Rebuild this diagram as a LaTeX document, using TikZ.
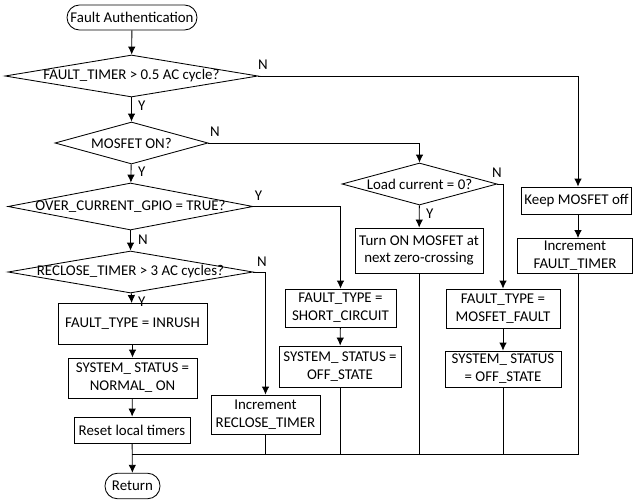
\documentclass[tikz,border=0pt]{standalone}
\usepackage{fontspec}
\setmainfont{Carlito}
\usetikzlibrary{shapes.geometric,arrows.meta}
\begin{document}
\begin{tikzpicture}[x=1pt,y=-1pt,
  every node/.style={font=\fontsize{14.9}{17.7}\selectfont, text=black},
  line/.style={draw=black, line width=0.85pt},
  arr/.style={line, -{Latex[length=8pt,width=7.5pt]}},
  proc/.style={draw=black, line width=0.85pt, rectangle, align=center, inner sep=0pt},
  term/.style={draw=black, line width=0.85pt, rectangle, rounded corners=12.5pt, inner sep=0pt},
  decision/.style={draw=black, line width=0.85pt, diamond, inner sep=0pt},
  lab/.style={inner sep=1pt}
]
\useasboundingbox (0,0) rectangle (634,501);

% terminals
\node[term, minimum width=130pt, minimum height=25pt] (start) at (132,17.5) {Fault Authentication};
\node[term, minimum width=55pt, minimum height=25.5pt] (ret) at (132.5,486) {Return};

% decisions
\node[decision, minimum width=253pt, minimum height=42pt] (d1) at (131.5,76) {\makebox[0pt]{FAULT\_TIMER > 0.5 AC cycle?}};
\node[decision, minimum width=153pt, minimum height=42pt] (d2) at (131.5,143) {\makebox[0pt]{MOSFET ON?}};
\node[decision, minimum width=245pt, minimum height=47pt] (d3) at (130.5,206.5) {\makebox[0pt]{OVER\_CURRENT\_GPIO = TRUE?}};
\node[decision, minimum width=245pt, minimum height=42pt] (d4) at (130.5,272) {\makebox[0pt]{RECLOSE\_TIMER > 3 AC cycles?}};
\node[decision, minimum width=155pt, minimum height=42pt] (d5) at (419.5,184) {\makebox[0pt]{Load current = 0?}};

% left column
\node[proc, minimum width=149pt, minimum height=41pt] (inrush) at (132.5,324) {FAULT\_TYPE = INRUSH};
\node[proc, minimum width=129pt, minimum height=40pt] (normal) at (132.5,378) {SYSTEM\_ STATUS =\\NORMAL\_ ON};
\node[proc, minimum width=116pt, minimum height=26pt] (reset) at (132,430) {Reset local timers};

% middle columns
\node[proc, minimum width=109pt, minimum height=39pt] (rclose) at (265.5,414.5) {Increment\\RECLOSE\_TIMER};
\node[proc, minimum width=111pt, minimum height=38pt] (short) at (340.5,308) {FAULT\_TYPE =\\SHORT\_CIRCUIT};
\node[proc, minimum width=122pt, minimum height=41pt] (offL) at (340,366.5) {SYSTEM\_ STATUS =\\OFF\_STATE};
\node[proc, minimum width=128pt, minimum height=45pt] (turnon) at (419,250.5) {Turn ON MOSFET at\\next zero-crossing};
\node[proc, minimum width=114pt, minimum height=39pt] (mfault) at (503,308.5) {FAULT\_TYPE =\\MOSFET\_FAULT};
\node[proc, minimum width=116pt, minimum height=36pt] (offR) at (503,369) {SYSTEM\_ STATUS\\= OFF\_STATE};

% right column
\node[proc, minimum width=110pt, minimum height=27pt] (keep) at (576.5,200.5) {Keep MOSFET off};
\node[proc, minimum width=115pt, minimum height=35pt] (incF) at (575,256) {Increment\\FAULT\_TIMER};

% merge line above Return
\coordinate (mL) at (132,454.5);
\coordinate (mR) at (578,454.5);

% main spine
\draw[arr] (start) -- (d1);
\draw[arr] (d1) -- (d2);
\draw[arr] (d2) -- (d3);
\draw[arr] (d3) -- (d4);
\draw[arr] (d4) -- (inrush);
\draw[arr] (inrush) -- (normal);
\draw[arr] (normal) -- (reset);
\draw[arr] (reset) -- (ret);

% branches
\draw[arr] (d1.east) -| (keep.north -| mR);
\draw[arr] (keep.south -| mR) -- (incF.north -| mR);
\draw[line] (incF.south -| mR) -- (mR);

\draw[arr] (d2.east) -| (d5.north);
\draw[arr] (d5) -- (turnon);
\draw[line] (turnon.south) -- (turnon.south |- mL);

\draw[arr] (d5.east) -| (mfault.north);
\draw[arr] (mfault) -- (offR);
\draw[line] (offR.south) -- (offR.south |- mL);

\draw[arr] (d3.east) -| (short.north);
\draw[arr] (short) -- (offL);
\draw[line] (offL.south) -- (offL.south |- mL);

\draw[arr] (d4.east) -| (rclose.north);
\draw[line] (rclose.south) -- (rclose.south |- mL);

\draw[line] (mL) -- (mR);

% branch labels
\node[lab, anchor=west] at (137,106) {Y};
\node[lab, anchor=west] at (137,172) {Y};
\node[lab, anchor=west] at (137,240) {N};
\node[lab, anchor=west] at (137,302) {Y};
\node[lab] at (263,64.5) {N};
\node[lab] at (215,131.5) {N};
\node[lab] at (258.5,195.5) {Y};
\node[lab] at (262,261.5) {N};
\node[lab] at (497,172.5) {N};
\node[lab, anchor=west] at (425,214) {Y};
\end{tikzpicture}
\end{document}
